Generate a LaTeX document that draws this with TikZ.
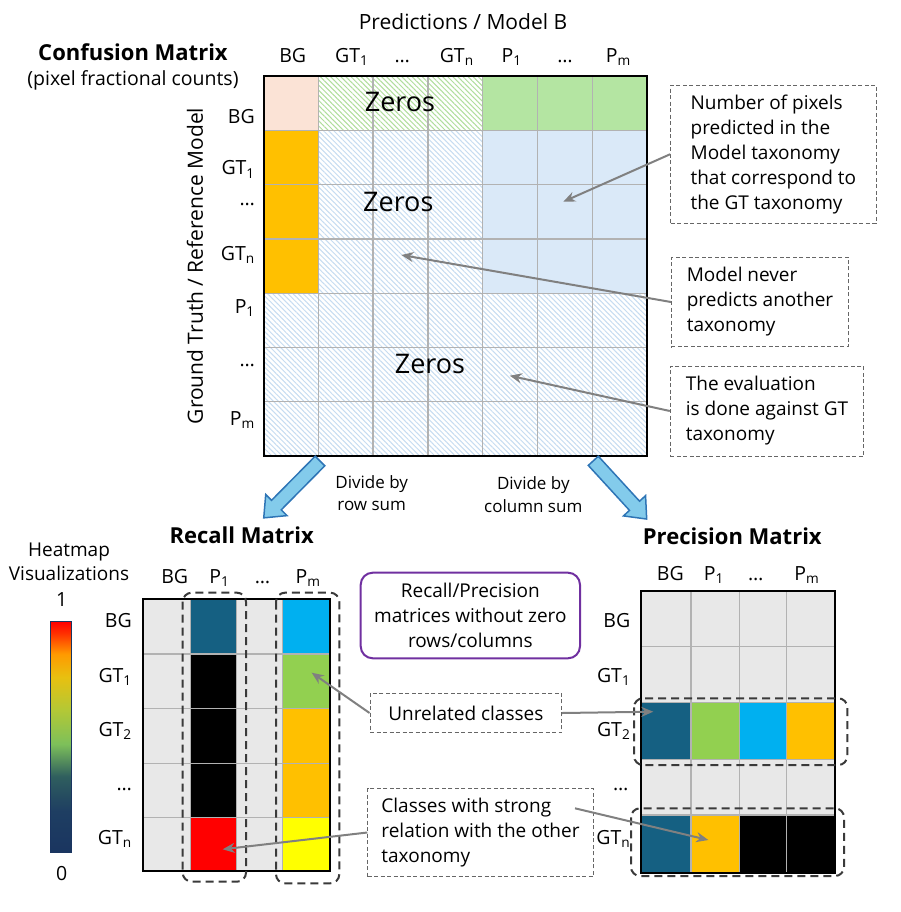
\documentclass[tikz,border=0pt]{standalone}
\usepackage{fontspec}
\setmainfont{Open Sans}
\usetikzlibrary{arrows.meta,patterns.meta}
\definecolor{peach}{HTML}{FBE3D6}
\definecolor{lgreen}{HTML}{B4E5A2}
\definecolor{lblue}{HTML}{DAE9F8}
\definecolor{gold}{HTML}{FFC000}
\definecolor{cteal}{HTML}{156082}
\definecolor{cgreen}{HTML}{92D050}
\definecolor{ccyan}{HTML}{00B0F0}
\definecolor{cyel}{HTML}{FFFF00}
\definecolor{cred}{HTML}{FF0000}
\definecolor{cgray}{HTML}{E8E8E8}
\definecolor{gridc}{HTML}{B2B2B2}
\definecolor{hatchg}{HTML}{B0DE9C}
\definecolor{hatchb}{HTML}{C6DCF1}
\definecolor{arrowc}{HTML}{808080}
\definecolor{notec}{HTML}{666666}
\definecolor{dashc}{HTML}{3A3A3A}
\definecolor{purp}{HTML}{7030A0}
\definecolor{bfill}{HTML}{83CBEB}
\definecolor{bdraw}{HTML}{2E75B6}
\definecolor{hA}{HTML}{1A3560}
\definecolor{hB}{HTML}{1E3E62}
\definecolor{hC}{HTML}{2F5E5E}
\definecolor{hD}{HTML}{7DC05A}
\definecolor{hE}{HTML}{B4C835}
\definecolor{hF}{HTML}{E8C010}
\definecolor{hG}{HTML}{FF9A00}
\definecolor{hH}{HTML}{FF3000}
\definecolor{hI}{HTML}{FF0000}
\pgfdeclareverticalshading{heat}{100bp}{color(0bp)=(hA); color(25bp)=(hA); color(34bp)=(hB); color(41.5bp)=(hC); color(48.5bp)=(hD); color(56bp)=(hE); color(63bp)=(hF); color(68bp)=(hG); color(72.5bp)=(hH); color(75bp)=(hI); color(100bp)=(hI)}
\begin{document}
\begin{tikzpicture}[x=1pt,y=-1pt,
  lbl/.style={inner sep=0pt, font=\fontsize{19.5}{23}\selectfont},
  axl/.style={inner sep=0pt, font=\fontsize{21}{24}\selectfont},
  ttl/.style={inner sep=0pt, font=\fontsize{22}{26}\selectfont\bfseries},
  zer/.style={inner sep=0pt, font=\fontsize{27}{30}\selectfont},
  smalltxt/.style={inner sep=0pt, align=center, font=\fontsize{17}{22.3}\selectfont},
  note/.style={draw=notec, line width=0.9pt, dash pattern=on 4pt off 2.5pt, align=left, inner sep=0pt, font=\fontsize{19}{25}\selectfont},
  purpbox/.style={draw=purp, line width=2pt, rounded corners=12pt, align=center, inner sep=0pt, font=\fontsize{19}{25}\selectfont},
  gridl/.style={draw=gridc, line width=1.3pt},
  frame/.style={draw=black, line width=2pt},
  grp/.style={draw=dashc, line width=2pt, dash pattern=on 8pt off 5pt, rounded corners=9pt},
  conn/.style={draw=arrowc, line width=2pt, -{Stealth[length=12pt,width=10pt]}},
  barrow/.style={fill=bfill, draw=bdraw, line width=1.5pt, line join=miter},
  hatchG/.style={pattern={Lines[angle=-45,distance=3.6pt,line width=1pt]}, pattern color=hatchg},
  hatchB/.style={pattern={Lines[angle=-45,distance=3.6pt,line width=1pt]}, pattern color=hatchb}
]
\useasboundingbox (0,0) rectangle (900,912);

% ---------------- Confusion matrix ----------------
\fill[peach] (263.5,76) rectangle (318.3,130.3);
\fill[white] (318.3,76) rectangle (482.7,130.3);
\fill[hatchG] (318.3,76) rectangle (482.7,130.3);
\fill[lgreen] (482.7,76) rectangle (647,130.3);
\fill[gold] (263.5,130.3) rectangle (318.3,293.2);
\fill[white] (318.3,130.3) rectangle (482.7,293.2);
\fill[hatchB] (318.3,130.3) rectangle (482.7,293.2);
\fill[lblue] (482.7,130.3) rectangle (647,293.2);
\fill[white] (263.5,293.2) rectangle (647,456);
\fill[hatchB] (263.5,293.2) rectangle (647,456);
\foreach \x in {318.3,373.1,427.9,482.7,537.4,592.2} \draw[gridl] (\x,76) -- (\x,456);
\foreach \y in {130.3,184.6,238.9,293.2,347.4,401.7} \draw[gridl] (263.5,\y) -- (647,\y);
\draw[frame] (263.5,76) rectangle (647,456);

\node[zer] (z1) at (400,101.7) {Zeros};
\node[zer] (z2) at (398.3,201.7) {Zeros};
\node[zer] (z3) at (430,364.3) {Zeros};

\node[axl] (pred) at (463,21.7) {Predictions / Model B};
\node[ttl] (cmt) at (133,52) {Confusion Matrix};
\node[lbl] (cms) at (133,80) {(pixel fractional counts)};
\node[axl, rotate=90] (gtlbl) at (195,266) {Ground Truth / Reference Model};

\node[lbl, anchor=base] (c1) at (292.7,62.7) {BG};
\node[lbl, anchor=base] (c2) at (351.7,62.7) {GT\textsubscript{1}};
\node[lbl, anchor=base] (c3) at (402.3,62.7) {…};
\node[lbl, anchor=base] (c4) at (456.7,62.7) {GT\textsubscript{n}};
\node[lbl, anchor=base] (c5) at (511.7,62.7) {P\textsubscript{1}};
\node[lbl, anchor=base] (c6) at (565,62.7) {…};
\node[lbl, anchor=base] (c7) at (618.3,62.7) {P\textsubscript{m}};

\node[lbl, anchor=base east] (r1) at (255,123.3) {BG};
\node[lbl, anchor=base east] (r2) at (255,175) {GT\textsubscript{1}};
\node[lbl, anchor=base east] (r3) at (255,205) {…};
\node[lbl, anchor=base east] (r4) at (255,260) {GT\textsubscript{n}};
\node[lbl, anchor=base east] (r5) at (255,313.3) {P\textsubscript{1}};
\node[lbl, anchor=base east] (r6) at (255,366.7) {…};
\node[lbl, anchor=base east] (r7) at (255,425) {P\textsubscript{m}};

% annotation boxes (top)
\node[note, minimum width=205.3pt, minimum height=138.3pt] (nbox) at (773.35,154.2)
  {Number of pixels\\predicted in the\\Model taxonomy\\that correspond to\\the GT taxonomy};
\node[note, minimum width=177.2pt, minimum height=89.4pt] (mbox) at (760,302)
  {Model never\\predicts another\\taxonomy};
\node[note, minimum width=193.5pt, minimum height=90pt] (ebox) at (767,411)
  {The evaluation\\is done against GT\\taxonomy};
\coordinate (t1) at (563.3,201.7);
\coordinate (t2) at (401.4,255);
\coordinate (t3) at (509.8,375.7);
\draw[conn] (nbox.west) -- (t1);
\draw[conn] (mbox.west) -- (t2);
\draw[conn] (ebox.west) -- (t3);

% block arrows
\begin{scope}[shift={(320,461)}, rotate=225.3]
  \draw[barrow] (0,-6.8) -- (62,-6.8) -- (62,-15) -- (80,0) -- (62,15) -- (62,6.8) -- (0,6.8) -- cycle;
\end{scope}
\begin{scope}[shift={(593.3,460.8)}, rotate=-47.5]
  \draw[barrow] (0,-6.8) -- (61,-6.8) -- (61,-15) -- (79,0) -- (61,15) -- (61,6.8) -- (0,6.8) -- cycle;
\end{scope}
\node[smalltxt] (drow) at (371.7,493) {Divide by\\row sum};
\node[smalltxt] (dcol) at (533.3,494.7) {Divide by\\column sum};

% ---------------- Heatmap legend ----------------
\node[lbl, align=center, font=\fontsize{19}{24.7}\selectfont] (hm) at (69,561.7) {Heatmap\\Visualizations};
\shade[shading=heat] (50.7,621.7) rectangle (71.7,852.7);
\draw[draw=hA, line width=1.5pt] (50.7,621.7) rectangle (71.7,852.7);
\node[lbl] (one) at (61.7,600) {1};
\node[lbl] (zero) at (61.7,873.3) {0};

% ---------------- Recall matrix ----------------
\node[ttl] (rt) at (241.7,535) {Recall Matrix};
\fill[cgray] (142.7,599.3) rectangle (330,871);
\fill[cteal] (190.5,599.3) rectangle (236.5,654);
\fill[black] (190.5,654) rectangle (236.5,817.3);
\fill[cred] (190.5,817.3) rectangle (236.5,871);
\fill[ccyan] (282.8,599.3) rectangle (330,654);
\fill[cgreen] (282.8,654) rectangle (330,708.7);
\fill[gold] (282.8,708.7) rectangle (330,817.3);
\fill[cyel] (282.8,817.3) rectangle (330,871);
\foreach \x in {190.5,236.5,282.8} \draw[gridl] (\x,599.3) -- (\x,871);
\foreach \y in {654,708.7,763.3,817.3} \draw[gridl] (142.7,\y) -- (330,\y);
\draw[frame] (142.7,599.3) rectangle (330,871);

\node[lbl, anchor=base] (rc1) at (174.7,583.3) {BG};
\node[lbl, anchor=base] (rc2) at (219.3,583.3) {P\textsubscript{1}};
\node[lbl, anchor=base] (rc3) at (262.5,583.3) {…};
\node[lbl, anchor=base] (rc4) at (308,583.3) {P\textsubscript{m}};
\node[lbl, anchor=base east] (rr1) at (132,627.3) {BG};
\node[lbl, anchor=base east] (rr2) at (132,682.7) {GT\textsubscript{1}};
\node[lbl, anchor=base east] (rr3) at (132,736.7) {GT\textsubscript{2}};
\node[lbl, anchor=base east] (rr4) at (132,790.3) {…};
\node[lbl, anchor=base east] (rr5) at (132,844.3) {GT\textsubscript{n}};

\draw[grp] (182.7,592.7) rectangle (246,881.7);
\draw[grp] (276,592.7) rectangle (339.3,883.3);

% ---------------- Precision matrix ----------------
\node[ttl] (pt) at (732.3,536.7) {Precision Matrix};
\fill[cgray] (641.3,590.7) rectangle (834.7,872.7);
\fill[cteal] (641.3,702.7) rectangle (691,759.3);
\fill[cgreen] (691,702.7) rectangle (739.3,759.3);
\fill[ccyan] (739.3,702.7) rectangle (786.7,759.3);
\fill[gold] (786.7,702.7) rectangle (834.7,759.3);
\fill[cteal] (641.3,815) rectangle (691,872.7);
\fill[gold] (691,815) rectangle (739.3,872.7);
\fill[black] (739.3,815) rectangle (834.7,872.7);
\foreach \x in {691,739.3,786.7} \draw[gridl] (\x,590.7) -- (\x,872.7);
\foreach \y in {646.7,702.7,759.3,815} \draw[gridl] (641.3,\y) -- (834.7,\y);
\draw[frame] (641.3,590.7) rectangle (834.7,872.7);

\node[lbl, anchor=base] (pc1) at (670.3,580) {BG};
\node[lbl, anchor=base] (pc2) at (713.8,580) {P\textsubscript{1}};
\node[lbl, anchor=base] (pc3) at (755.8,580) {…};
\node[lbl, anchor=base] (pc4) at (806.8,580) {P\textsubscript{m}};
\node[lbl, anchor=base east] (pr1) at (630.5,627.3) {BG};
\node[lbl, anchor=base east] (pr2) at (630.5,682.7) {GT\textsubscript{1}};
\node[lbl, anchor=base east] (pr3) at (630.5,736.7) {GT\textsubscript{2}};
\node[lbl, anchor=base east] (pr4) at (628.5,790.7) {…};
\node[lbl, anchor=base east] (pr5) at (630.5,844.3) {GT\textsubscript{n}};

\draw[grp] (634,698.3) rectangle (847.3,765);
\draw[grp] (631,808.3) rectangle (844,876);

% ---------------- middle annotations ----------------
\node[purpbox, minimum width=219.3pt, minimum height=85.6pt] (pbox) at (470.35,615.5)
  {Recall/Precision\\matrices without zero\\rows/columns};
\node[note, minimum width=191.7pt, minimum height=39.4pt] (ubox) at (465.85,713) {Unrelated classes};
\node[note, minimum width=225.6pt, minimum height=88.4pt] (sbox) at (480.5,832.5)
  {Classes with strong\\relation with the other\\taxonomy};
\coordinate (t4) at (311.7,672.7);
\coordinate (t5) at (653.3,711.7);
\coordinate (t6) at (222.7,849.3);
\coordinate (t7) at (708.3,840);
\coordinate (s7) at (575,808.3);
\draw[conn] (ubox.west) -- (t4);
\draw[conn] (ubox.east) -- (t5);
\draw[conn] (sbox.west) -- (t6);
\draw[conn] (s7) -- (t7);
\end{tikzpicture}
\end{document}
